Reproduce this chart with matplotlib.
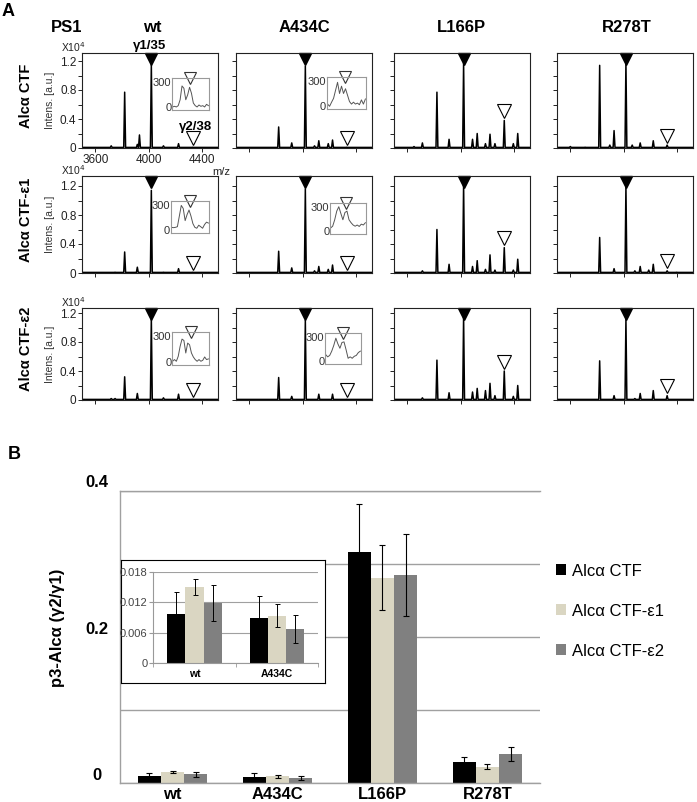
import numpy as np
import matplotlib
matplotlib.use('Agg')
import matplotlib.pyplot as plt
from matplotlib import transforms

plt.rcParams['font.family'] = ['Liberation Sans', 'DejaVu Sans']

W, H = 697, 802

# ---- Panel A: MALDI spectra (peak m/z and heights, x10^4) ----
mutants = ['wt', 'A434C', 'L166P', 'R278T']
substrates = ['Alc\u03b1 CTF', 'Alc\u03b1 CTF-\u03b51', 'Alc\u03b1 CTF-\u03b52']

wt_mz = [3719, 3748, 3820, 3915, 3931, 4020, 4111, 4224, 4330]
wt_ctf = [0.03, 0.0, 0.77, 0.05, 0.18, 1.15, 0.03, 0.06, 0.01]
wt_e1 = [0.0, 0.01, 0.29, 0.08, 0.0, 1.14, 0.01, 0.06, 0.01]
wt_e2 = [0.02, 0.02, 0.32, 0.09, 0.0, 1.13, 0.03, 0.08, 0.01]

a434c_mz = [3820, 3918, 4020, 4089, 4121, 4192, 4224, 4330]
a434c_ctf = [0.29, 0.07, 1.13, 0.03, 0.10, 0.06, 0.11, 0.01]
a434c_e1 = [0.30, 0.07, 1.16, 0.03, 0.09, 0.05, 0.11, 0.01]
a434c_e2 = [0.31, 0.05, 1.10, 0.0, 0.08, 0.0, 0.08, 0.01]

l166p_mz = [3650, 3713, 3822, 3913, 4022, 4089, 4124, 4186, 4220, 4257, 4327, 4395, 4428]
l166p_ctf = [0.02, 0.07, 0.77, 0.12, 1.17, 0.12, 0.20, 0.06, 0.19, 0.06, 0.38, 0.06, 0.20]
l166p_e1 = [0.0, 0.03, 0.60, 0.12, 1.23, 0.09, 0.17, 0.05, 0.25, 0.04, 0.35, 0.04, 0.19]
l166p_e2 = [0.0, 0.03, 0.55, 0.10, 1.15, 0.11, 0.16, 0.13, 0.23, 0.06, 0.40, 0.05, 0.20]

r278t_mz = [3600, 3711, 3820, 3896, 3928, 4017, 4064, 4084, 4124, 4188, 4222, 4326, 4397]
r278t_ctf = [0.02, 0.01, 1.14, 0.04, 0.24, 1.19, 0.04, 0.0, 0.07, 0.0, 0.10, 0.04, 0.0]
r278t_e1 = [0.0, 0.0, 0.49, 0.0, 0.06, 1.20, 0.0, 0.03, 0.09, 0.04, 0.12, 0.03, 0.01]
r278t_e2 = [0.0, 0.0, 0.54, 0.0, 0.06, 1.12, 0.0, 0.02, 0.09, 0.0, 0.13, 0.06, 0.0]

# zoomed gamma2 region insets (intensity, a.u.)
inset_wt_ctf = [12, 20, 12, 28, 100, 268, 240, 100, 160, 252, 180, 60, 28, 12, 36, 20, 28, 12, 44, 28]
inset_wt_e1 = [44, 40, 44, 52, 181, 311, 274, 126, 200, 255, 181, 89, 44, 33, 70, 52, 33, 78, 107, 96]
inset_wt_e2 = [19, 39, 19, 78, 195, 281, 265, 117, 234, 214, 117, 70, 39, 19, 39, 19, 31, 70, 39, 47]
inset_a434c_ctf = [35, 8, 58, 105, 203, 300, 164, 253, 164, 222, 144, 66, 35, 58, 35, 47, 27, 86, 35, 97]
inset_a434c_e1 = [51, 73, 154, 263, 318, 234, 154, 245, 263, 154, 117, 88, 73, 88, 70, 99, 88, 117]
inset_a434c_e2 = [94, 65, 83, 137, 210, 300, 228, 173, 246, 253, 155, 47, 65, 47, 72, 83, 119, 137]
inset_gamma2_pos = [9.2, 9.5, 9.7, 8.8, 7.7, 8.7]

# ---- Panel B: p3-Alc alpha gamma2/gamma1 ratio ----
groups = ['wt', 'A434C', 'L166P', 'R278T']
series = ['Alc\u03b1 CTF', 'Alc\u03b1 CTF-\u03b51', 'Alc\u03b1 CTF-\u03b52']
ctf_mean = [0.0097, 0.0089, 0.317, 0.0294]
ctf_err = [0.0043, 0.0044, 0.065, 0.006]
e1_mean = [0.0150, 0.0093, 0.2815, 0.0225]
e1_err = [0.0015, 0.0023, 0.044, 0.0035]
e2_mean = [0.0118, 0.0067, 0.285, 0.040]
e2_err = [0.0036, 0.0027, 0.056, 0.010]
main_ticks = [0, 0.2, 0.4]
inset_ticks = [0, 0.006, 0.012, 0.018]


def rect(left, top, w, h):
    return [left / W, 1 - (top + h) / H, w / W, h / H]


def fx(x):
    return x / W


def fy(y):
    return 1 - y / H


def spectrum(mz, h, base=0.008, half=7):
    xs, ys = [3500], [base]
    for m, v in sorted(zip(mz, h)):
        if v <= 0:
            continue
        xs += [m - half, m, m + half]
        ys += [base, v, base]
    xs.append(4520)
    ys.append(base)
    return xs, ys


fig = plt.figure(figsize=(W / 100, H / 100), dpi=100)

mz_lists = [wt_mz, a434c_mz, l166p_mz, r278t_mz]
heights = [[wt_ctf, wt_e1, wt_e2],
           [a434c_ctf, a434c_e1, a434c_e2],
           [l166p_ctf, l166p_e1, l166p_e2],
           [r278t_ctf, r278t_e1, r278t_e2]]
insets = {(0, 0): inset_wt_ctf, (1, 0): inset_wt_e1, (2, 0): inset_wt_e2,
          (0, 1): inset_a434c_ctf, (1, 1): inset_a434c_e1, (2, 1): inset_a434c_e2}
inset_boxes = {(0, 0): (172, 78, 37, 32), (1, 0): (171, 201, 38, 32), (2, 0): (172, 332, 37, 33),
               (0, 1): (327, 77, 39, 32), (1, 1): (330, 203, 36, 31), (2, 1): (325, 333, 36, 31)}

col_left = [82, 236, 394, 557]
row_top = [53, 176, 308]
row_h = [95, 97, 92]

for r in range(3):
    for c in range(4):
        ax = fig.add_axes(rect(col_left[c], row_top[r], 136, row_h[r]))
        mz = np.array(mz_lists[c])
        h = np.array(heights[c][r])
        xs, ys = spectrum(mz, h)
        ax.plot(xs, ys, color='black', lw=1.1)
        ax.set_xlim(3500, 4520)
        ax.set_ylim(0, row_h[r] / 72.5)
        for s in ax.spines.values():
            s.set_color('#222222')
            s.set_linewidth(0.8)
        ax.set_xticks([3600, 4000, 4400])
        ax.set_yticks([0, 0.2, 0.4, 0.6, 0.8, 1.0, 1.2])
        ax.tick_params(direction='out', length=3, width=0.7, colors='#222222',
                       labelsize=8.5, pad=1)
        if c == 0:
            ax.set_yticklabels(['0', '', '0.4', '', '0.8', '', '1.2'])
        else:
            ax.set_yticklabels([])
        if r == 0 and c == 0:
            ax.set_xticklabels(['3600', '4000', '4400'])
        else:
            ax.set_xticklabels([])

        # gamma1 (filled) and gamma2 (open) markers
        win = (mz > 3980) & (mz < 4060)
        g1 = mz[win][np.argmax(h[win])]
        ax.plot(g1, 1 - 6 / row_h[r], 'v', color='black', ms=9,
                transform=ax.get_xaxis_transform(), clip_on=False)
        i2 = np.argmin(np.abs(mz - 4330))
        ax.plot(mz[i2], h[i2] + 0.13, 'v', mfc='white', mec='black', mew=0.8, ms=10,
                clip_on=False)

        if (r, c) in insets:
            vals = insets[(r, c)]
            iax = fig.add_axes(rect(*inset_boxes[(r, c)]))
            iax.plot(np.arange(len(vals)), vals, color='#555555', lw=0.7)
            iax.set_xlim(-0.3, len(vals) - 0.7)
            iax.set_ylim(-25, 365)
            iax.set_xticks([])
            iax.set_yticks([])
            iax.patch.set_alpha(0)
            for s in iax.spines.values():
                s.set_color('#999999')
                s.set_linewidth(0.8)
            ytr = iax.get_yaxis_transform()
            iax.text(-0.02, 300, '300', transform=ytr, ha='right', va='center',
                     fontsize=8, color='#333333')
            iax.text(-0.02, 0, '0', transform=ytr, ha='right', va='center',
                     fontsize=8, color='#333333')
            idx = list(insets.keys()).index((r, c))
            iax.plot(inset_gamma2_pos[idx], 365, 'v', mfc='white', mec='#333333', mew=0.8,
                     ms=8, clip_on=False)

    fig.text(fx(26), fy(row_top[r] + row_h[r] / 2 - 5), substrates[r], rotation=90,
             ha='center', va='center', fontsize=10.5, fontweight='bold')
    fig.text(fx(50), fy(row_top[r] + row_h[r] / 2), 'Intens. [a.u.]', rotation=90,
             ha='center', va='center', fontsize=7.5, color='#333333')
    fig.text(fx(61), fy(row_top[r] - 6), 'X10$^{4}$', ha='left', va='center',
             fontsize=7.5, color='#222222')

fig.text(fx(221), fy(172), 'm/z', ha='center', va='center', fontsize=8, color='#222222')
fig.text(fx(150), fy(46), '\u03b31/35', ha='center', va='center', fontsize=9.5,
         fontweight='bold')
fig.text(fx(196), fy(127), '\u03b32/38', ha='center', va='center', fontsize=9.5,
         fontweight='bold')

fig.text(fx(8), fy(11), 'A', ha='center', va='center', fontsize=13, fontweight='bold')
fig.text(fx(67), fy(27), 'PS1', ha='center', va='center', fontsize=12, fontweight='bold')
for name, xc in zip(mutants, [152, 304, 461, 627]):
    fig.text(fx(xc), fy(27), name, ha='center', va='center', fontsize=12, fontweight='bold')

# ---- Panel B ----
fig.text(fx(14), fy(454), 'B', ha='center', va='center', fontsize=13, fontweight='bold')

axB = fig.add_axes(rect(120, 491, 420, 292))
x = np.arange(len(groups))
bw = 0.22
colors = ['#000000', '#dad6c2', '#808080']
means = [ctf_mean, e1_mean, e2_mean]
errs = [ctf_err, e1_err, e2_err]
bars = []
for i in range(3):
    b = axB.bar(x + (i - 1) * bw, means[i], bw, yerr=errs[i], color=colors[i],
                label=series[i],
                error_kw=dict(ecolor='black', elinewidth=0.8, capsize=2.5, capthick=0.8))
    bars.append(b)
axB.set_xlim(-0.5, 3.5)
axB.set_ylim(0, 0.4)
axB.set_yticks([0, 0.1, 0.2, 0.3, 0.4])
axB.set_yticklabels([])
axB.yaxis.grid(True, color='#a0a0a0', lw=1)
axB.set_axisbelow(True)
for side in ['top', 'left', 'bottom']:
    axB.spines[side].set_color('#a0a0a0')
    axB.spines[side].set_linewidth(1)
axB.spines['right'].set_visible(False)
axB.set_xticks(x)
axB.set_xticklabels(groups, fontsize=12, fontweight='bold')
axB.tick_params(axis='both', length=0)
axB.tick_params(axis='x', pad=3)
lab_tr = transforms.offset_copy(axB.get_yaxis_transform(), fig=fig, x=-23, y=8, units='dots')
for v in main_ticks:
    axB.text(0, v, f'{v:g}', transform=lab_tr, ha='center', va='center',
             fontsize=12, fontweight='bold')

fig.text(fx(58), fy(628), 'p3-Alc\u03b1 (\u03b32/\u03b31)', rotation=90, ha='center',
         va='center', fontsize=12, fontweight='bold')

fig.legend(handles=bars, labels=series, loc='center left',
           bbox_to_anchor=(fx(556), fy(611)), frameon=False, fontsize=12,
           handlelength=0.6, handleheight=0.6, handletextpad=0.35, labelspacing=1.5,
           borderpad=0, borderaxespad=0)

# inset with the small ratios
frame = fig.add_axes(rect(121, 560, 204, 123))
frame.set_xticks([])
frame.set_yticks([])
for s in frame.spines.values():
    s.set_color('black')
    s.set_linewidth(0.8)

iB = fig.add_axes(rect(153.3, 571.7, 165, 91.3))
xi = np.arange(2)
for i in range(3):
    iB.bar(xi + (i - 1) * bw, means[i][:2], bw, yerr=errs[i][:2], color=colors[i],
           error_kw=dict(ecolor='black', elinewidth=0.7, capsize=1.8, capthick=0.7))
iB.set_xlim(-0.5, 1.5)
iB.set_ylim(0, 0.018)
iB.set_yticks(inset_ticks)
iB.set_yticklabels([f'{v:g}' for v in inset_ticks], fontsize=8, color='#444444')
iB.yaxis.grid(True, color='#a0a0a0', lw=0.8)
iB.set_axisbelow(True)
iB.set_xticks(xi)
iB.set_xticklabels(groups[:2], fontsize=7.5, fontweight='bold')
iB.set_xticks([-0.5, 0.5, 1.5], minor=True)
iB.tick_params(axis='x', which='major', length=0, pad=4)
iB.tick_params(axis='x', which='minor', length=3, color='#999999')
iB.tick_params(axis='y', length=3, color='#999999', pad=1)
for side in ['top', 'right']:
    iB.spines[side].set_visible(False)
for side in ['left', 'bottom']:
    iB.spines[side].set_color('#999999')
    iB.spines[side].set_linewidth(0.8)

fig.savefig('out.png', dpi=100)
